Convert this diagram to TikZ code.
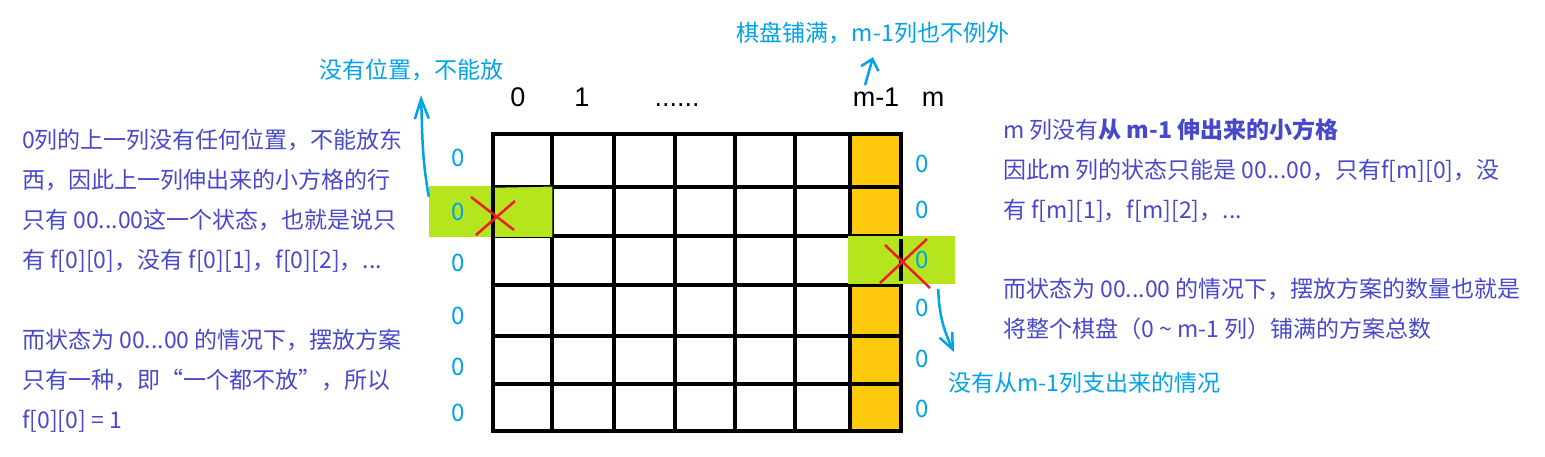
\documentclass[tikz,border=0pt]{standalone}
\usepackage{fontspec}
\setmainfont{Noto Sans CJK SC}
\newfontfamily\labelfont{Liberation Sans}
\usetikzlibrary{arrows.meta}
\definecolor{notecol}{RGB}{72,72,204}
\definecolor{penblue}{RGB}{0,162,232}
\definecolor{lime}{RGB}{181,230,29}
\definecolor{gold}{RGB}{255,201,14}
\definecolor{penred}{RGB}{237,28,36}

\begin{document}
\begin{tikzpicture}[x=1pt,y=-1pt]
\tikzstyle{every node}=[inner sep=0pt,font=\fontsize{23}{40}\selectfont]
\tikzstyle{note}=[notecol,align=left,anchor=north west,execute at begin node=\strut]
\tikzstyle{pen}=[penblue]
\tikzstyle{zero}=[penblue,font=\fontsize{24}{30}\selectfont]
\tikzstyle{head}=[font=\labelfont\fontsize{27}{30}\selectfont,anchor=base]
\tikzstyle{penline}=[penblue,line width=2.5pt]
\tikzstyle{cross}=[penred,line width=2.5pt]
\tikzstyle{gridline}=[line width=3.5pt]

\useasboundingbox (0,0) rectangle (1545,457);
\fill[gold] (850,134) rectangle (901,431);
\foreach \x in {552,614,675,735,795,850} \draw[gridline] (\x,134) -- (\x,431);
\foreach \y in {187,236,285,336,384} \draw[gridline] (493,\y) -- (901,\y);
\draw[line width=4.5pt] (493,134) rectangle (901,431);

\node[fill=lime,minimum width=124pt,minimum height=51pt] (lcell) at (491,211.5) {};
\node[fill=lime,minimum width=107pt,minimum height=48pt] (rcell) at (901.5,260) {};
\draw[line width=1.5pt] (493,187) -- (lcell.north east) -- (lcell.south east);
\draw[line width=4.5pt] (493,186) -- (493,237);
\draw[line width=4.5pt] (901,239) -- (901,281);

\foreach \y [count=\i] in {158,212,263,316,367,413} \node[zero] (lz\i) at (458,\y) {0};
\foreach \y [count=\i] in {164,210,260,308,359,409} \node[zero] (rz\i) at (922,\y) {0};

\node[head] (c0) at (518,107) {0};
\node[head] (c1) at (582,107) {1};
\node[head] (cdots) at (677,107) {......};
\node[head] (cm1) at (876,107) {m-1};
\node[head] (cm) at (933,107) {m};

\draw[cross] (471,197) -- (514,230) (515,201) -- (476,235);
\draw[cross] (885,245) -- (930,288) (927,239) -- (880,283);

\node[pen] (noroom) at (411,70) {没有位置，不能放};
\node[pen] (fullboard) at (873,33) {棋盘铺满，m-1列也不例外};
\node[pen,anchor=west] (nofromm) at (948,383) {没有从m-1列支出来的情况};

\draw[penline,-{Straight Barb[length=20pt,width=14pt]}] ([yshift=-11pt]lcell.north west) to[out=100,in=-88] ([xshift=10pt,yshift=-14pt]noroom.south);
\draw[penline,-{Straight Barb[length=10pt,width=18pt]}] ([xshift=-11pt,yshift=3pt]cm1.north) -- ([yshift=-13pt]fullboard.south);
\draw[penline,-{Straight Barb[length=16pt,width=14pt]}] ([xshift=-17pt,yshift=-5pt]rcell.south east) to[out=-88,in=115] ([xshift=6pt,yshift=20pt]nofromm.north west);

\node[note] (leftnote) at (22,129) {0列的上一列没有任何位置，不能放东\\西，因此上一列伸出来的小方格的行\\只有 00...00这一个状态，也就是说只\\有 f[0][0]，没有 f[0][1]，f[0][2]，...};
\node[note] (leftsum) at (22,329) {而状态为 00...00 的情况下，摆放方案\\只有一种，即“一个都不放”，所以\\f[0][0] = 1};
\node[note] (rightnote) at (1003,118) {m 列没有\textbf{从 m-1 伸出来的小方格}\\因此m 列的状态只能是 00...00，只有f[m][0]，没\\有 f[m][1]，f[m][2]，...};
\node[note] (rightsum) at (1003,278) {而状态为 00...00 的情况下，摆放方案的数量也就是\\将整个棋盘（0 \textasciitilde{} m-1 列）铺满的方案总数};
\end{tikzpicture}
\end{document}
